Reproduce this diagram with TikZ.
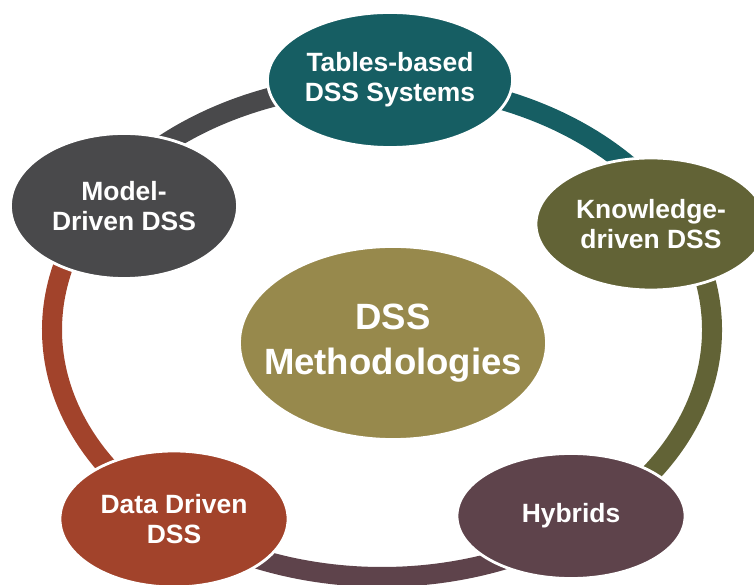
\documentclass[tikz,border=0pt]{standalone}
\usepackage{fontspec}
\setmainfont{Liberation Sans}
\usepackage{tikz}
\usetikzlibrary{shapes.geometric}

\definecolor{hubolive}{HTML}{97894C}
\definecolor{tablesteal}{HTML}{165E63}
\definecolor{knowolive}{HTML}{626336}
\definecolor{hybridplum}{HTML}{5E434B}
\definecolor{datarust}{HTML}{A2432B}
\definecolor{modelgrey}{HTML}{49494B}

\begin{document}
\begin{tikzpicture}[x=0.025cm,y=0.025cm]
    \tikzstyle{ring}=[line width=0.5cm]
    \tikzstyle{method}=[
      ellipse,
      draw=white,
      line width=2pt,
      text=white,
      inner sep=0pt,
      align=center,
      font=\bfseries\fontsize{18.8}{21.5}\selectfont
    ]
    \tikzstyle{hub}=[
      method,
      fill=hubolive,
      inner xsep=-1.5cm,
      font=\bfseries\fontsize{26}{32.5}\selectfont
    ]

    \useasboundingbox (0,0) rectangle (754,584);

    % points of the ring under each method
    \coordinate (ring centre) at (382,254);
    \path (ring centre) ++(90:330 and 247) coordinate (tables ring);
    \path (ring centre) ++(28:330 and 247) coordinate (knowledge ring);
    \path (ring centre) ++(-53:330 and 247) coordinate (hybrids ring);
    \path (ring centre) ++(-130:330 and 247) coordinate (data ring);
    \path (ring centre) ++(147:330 and 247) coordinate (model ring);

    \draw[ring,draw=modelgrey]  (model ring) arc[start angle=147, end angle=90, x radius=330, y radius=247];
    \draw[ring,draw=tablesteal] (tables ring) arc[start angle=90, end angle=28, x radius=330, y radius=247];
    \draw[ring,draw=knowolive]  (knowledge ring) arc[start angle=28, end angle=-53, x radius=330, y radius=247];
    \draw[ring,draw=hybridplum] (hybrids ring) arc[start angle=-53, end angle=-130, x radius=330, y radius=247];
    \draw[ring,draw=datarust]   (data ring) arc[start angle=-130, end angle=-213, x radius=330, y radius=247];

    \node[hub, minimum width=7.675cm, minimum height=4.825cm] (hub) at (393,241) {DSS\\Methodologies};

    \node[method, fill=tablesteal, minimum width=6.125cm, minimum height=3.375cm] (tables) at (390,504) {Tables-based\\DSS Systems};
    \node[method, fill=knowolive, minimum width=5.75cm, minimum height=3.3cm] (knowledge) at (651,360) {Knowledge-\\driven DSS};
    \node[method, fill=hybridplum, minimum width=5.7cm, minimum height=3.125cm] (hybrids) at (571,68) {Hybrids};
    \node[method, fill=datarust, minimum width=5.7cm, minimum height=3.4cm] (data) at (174,65) {Data Driven\\DSS};
    \node[method, fill=modelgrey, minimum width=5.675cm, minimum height=3.625cm] (model) at (124,378) {Model-\\Driven DSS};
\end{tikzpicture}
\end{document}
